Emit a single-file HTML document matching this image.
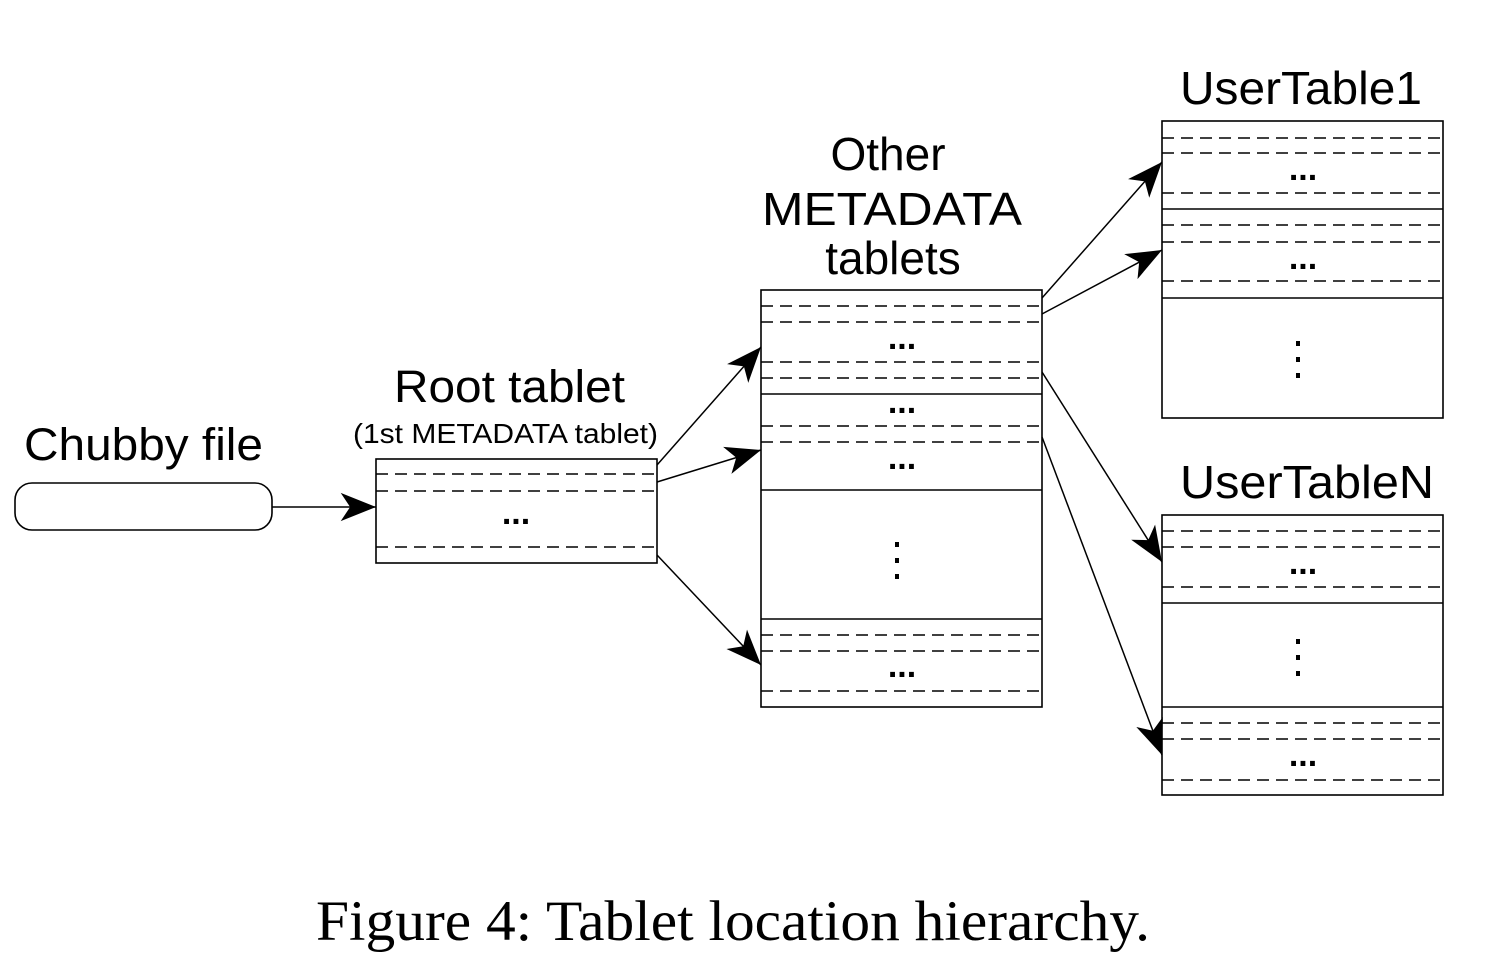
<!DOCTYPE html>
<html><head><meta charset="utf-8"><style>html,body{margin:0;padding:0;background:#fff}svg{display:block}</style></head>
<body>
<svg width="1493" height="980" viewBox="0 0 1493 980" xmlns="http://www.w3.org/2000/svg">
<defs>
<marker id="a" markerUnits="userSpaceOnUse" markerWidth="40" markerHeight="40" viewBox="-32 -14 34 28" refX="0" refY="0" orient="auto">
<path d="M0,0 L-30,-12 L-22,0 L-30,12 Z" fill="#000"/>
</marker>
</defs>
<g font-family="Liberation Sans, Arial, sans-serif" fill="#000">
<text x="24" y="460" font-size="45" textLength="239" lengthAdjust="spacingAndGlyphs">Chubby file</text>
<text x="394" y="402" font-size="45" textLength="231" lengthAdjust="spacingAndGlyphs">Root tablet</text>
<text x="353" y="443" font-size="28" textLength="305" lengthAdjust="spacingAndGlyphs">(1st METADATA tablet)</text>
<text x="888" y="170" font-size="46" text-anchor="middle">Other</text>
<text x="892" y="225" font-size="46" text-anchor="middle" textLength="260" lengthAdjust="spacingAndGlyphs">METADATA</text>
<text x="893" y="274" font-size="46" text-anchor="middle">tablets</text>
<text x="1180" y="104" font-size="46" textLength="242" lengthAdjust="spacingAndGlyphs">UserTable1</text>
<text x="1180" y="498" font-size="46" textLength="254" lengthAdjust="spacingAndGlyphs">UserTableN</text>
</g>
<text x="316" y="940" font-family="Liberation Serif, Times New Roman, serif" font-size="57" textLength="834" lengthAdjust="spacingAndGlyphs">Figure 4: Tablet location hierarchy.</text>

<g stroke="#000" stroke-width="1.6" fill="none">
<rect x="15" y="483" width="257" height="47" rx="17"/>
<rect x="376" y="459" width="281" height="104"/>
<rect x="761" y="290" width="281" height="417"/>
<rect x="1162" y="121" width="281" height="297"/>
<rect x="1162" y="515" width="281" height="280"/>
<line x1="761" y1="394" x2="1042" y2="394"/>
<line x1="761" y1="490" x2="1042" y2="490"/>
<line x1="761" y1="619" x2="1042" y2="619"/>
<line x1="1162" y1="209" x2="1443" y2="209"/>
<line x1="1162" y1="298" x2="1443" y2="298"/>
<line x1="1162" y1="603" x2="1443" y2="603"/>
<line x1="1162" y1="707" x2="1443" y2="707"/>
</g>
<g stroke="#000" stroke-width="1.4" stroke-dasharray="12 7" fill="none">
<path d="M376 474H657M376 491H657M376 547H657"/>
<path d="M761 306H1042M761 322H1042M761 362H1042M761 378H1042M761 426H1042M761 442H1042M761 635H1042M761 651H1042M761 691H1042"/>
<path d="M1162 138H1443M1162 153H1443M1162 193H1443M1162 225H1443M1162 242H1443M1162 281H1443"/>
<path d="M1162 531H1443M1162 547H1443M1162 587H1443M1162 723H1443M1162 739H1443M1162 780H1443"/>
</g>
<g stroke="#000" stroke-width="1.5" fill="none" marker-end="url(#a)">
<line x1="272" y1="507" x2="376" y2="507"/>
<line x1="657" y1="465" x2="761" y2="347"/>
<line x1="657" y1="482" x2="761" y2="450"/>
<line x1="657" y1="555" x2="761" y2="665"/>
<line x1="1042" y1="298" x2="1162" y2="162"/>
<line x1="1042" y1="314" x2="1162" y2="250"/>
<line x1="1042" y1="372" x2="1162" y2="562"/>
<line x1="1042" y1="437" x2="1162" y2="755"/>
</g>
<g font-family="Liberation Sans, Arial, sans-serif" font-size="34" font-weight="bold" text-anchor="middle" fill="#000">
<text x="516" y="524">...</text>
<text x="902" y="349">...</text>
<text x="902" y="413">...</text>
<text x="902" y="469">...</text>
<text x="902" y="677">...</text>
<text x="1303" y="180">...</text>
<text x="1303" y="269">...</text>
<text x="1303" y="574">...</text>
<text x="1303" y="766">...</text>
</g>
<g fill="#000">
<rect x="895" y="542" width="4" height="5"/><rect x="895" y="558" width="4" height="5"/><rect x="895" y="574" width="4" height="5"/>
<rect x="1296" y="341" width="4" height="5"/><rect x="1296" y="357" width="4" height="5"/><rect x="1296" y="373" width="4" height="5"/>
<rect x="1296" y="639" width="4" height="5"/><rect x="1296" y="655" width="4" height="5"/><rect x="1296" y="671" width="4" height="5"/>
</g>
</svg>
</body></html>
